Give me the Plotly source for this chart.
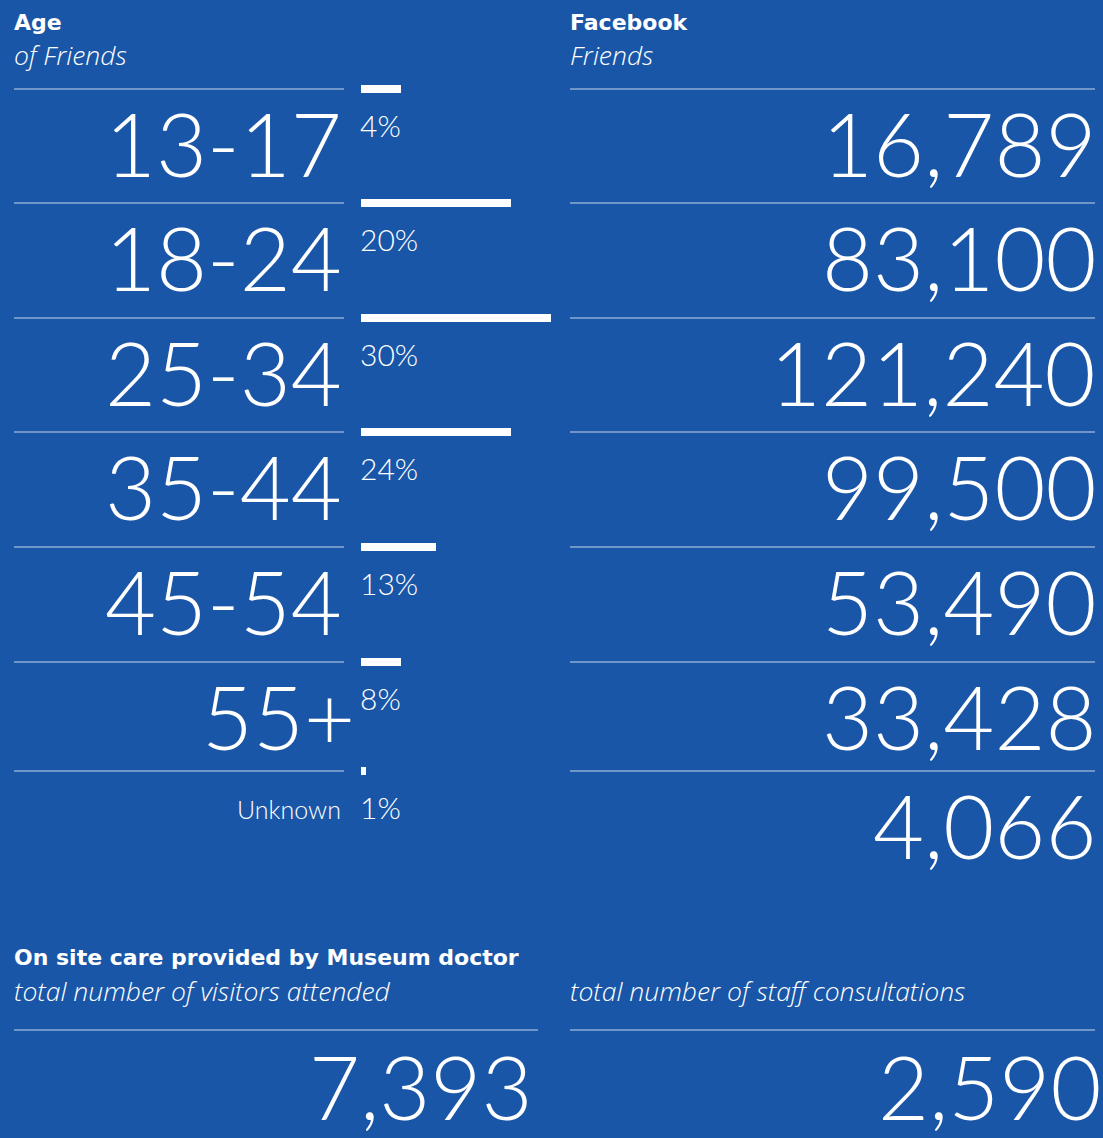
import plotly.graph_objects as go

# ---- data ----
age_groups = ["13-17", "18-24", "25-34", "35-44", "45-54", "55+", "Unknown"]
age_pct = [4, 20, 30, 24, 13, 8, 1]
# bar lengths as drawn in the picture (percentage scale)
bar_len = [6.3, 23.7, 30, 23.7, 11.8, 6.3, 0.8]
fb_friends = [16789, 83100, 121240, 99500, 53490, 33428, 4066]
visitors_attended = 7393
staff_consultations = 2590

# ---- layout constants ----
W, H = 1103, 1138
BG = "#1a56a7"
LINE = "rgba(255,255,255,0.75)"
row_top = [89, 203, 318, 432, 547, 662, 771]
BIG = dict(family="Lato", size=88, color="white", weight=300)
HEAD = dict(family="DejaVu Sans", size=22, color="white", weight=700)
SUB = dict(family="Open Sans", size=26.5, color="white", weight=300, style="italic")
PCT = dict(family="Lato", size=30, color="white", weight=300)

fig = go.Figure()

fig.add_trace(go.Bar(
    x=bar_len, y=row_top, orientation="h", width=8,
    marker=dict(color="white", line=dict(width=0)),
    xaxis="x2", yaxis="y", hoverinfo="skip", showlegend=False,
))

ann = []
def A(x, y, text, font, xanchor="left", xref="x"):
    ann.append(dict(x=x, y=y, xref=xref, yref="y", text=text, showarrow=False,
                    xanchor=xanchor, yanchor="middle", font=font))

# headers
A(12, 22, "Age", HEAD)
A(12, 55, "of Friends", SUB)
A(568, 22, "Facebook", HEAD)
A(568, 55, "Friends", SUB)
A(12, 957, "On site care provided by Museum doctor", HEAD)
A(12, 991, "total number of visitors attended", SUB)
A(568, 991, "total number of staff consultations", SUB)

shapes = []
def L(x0, x1, y):
    shapes.append(dict(type="line", xref="x", yref="y", x0=x0, x1=x1, y0=y, y1=y,
                       line=dict(color=LINE, width=1.2)))

for i, g in enumerate(age_groups):
    top = row_top[i]
    L(14, 344, top)
    L(570, 1095, top)
    if g == "Unknown":
        A(343, top + 38, g, dict(family="Lato", size=25, color="white", weight=300), "right")
    else:
        A(357 if g == "55+" else 344, top + 54, g, BIG, "right")
    A(358, top + 36, f"{age_pct[i]}%", PCT)
    A(1098, top + 54, f"{fb_friends[i]:,}", BIG, "right")

L(14, 538, 1030)
L(570, 1095, 1030)
A(534, 1086, f"{visitors_attended:,}", BIG, "right")
A(1.0, 1086, f"{staff_consultations:,}", BIG, "right", xref="paper")

fig.update_layout(
    width=W, height=H, margin=dict(l=0, r=0, t=0, b=0),
    paper_bgcolor=BG, plot_bgcolor=BG,
    xaxis=dict(range=[0, W], domain=[0, 1], visible=False, fixedrange=True),
    xaxis2=dict(range=[0, 30], domain=[361 / W, 551 / W], anchor="y",
                visible=False, fixedrange=True),
    yaxis=dict(range=[H, 0], domain=[0, 1], visible=False, fixedrange=True),
    annotations=ann, shapes=shapes, bargap=0,
)

fig.write_html("out.html", config={"displayModeBar": False},
               post_script="document.body.style.margin='0';document.body.style.overflow='hidden';")
